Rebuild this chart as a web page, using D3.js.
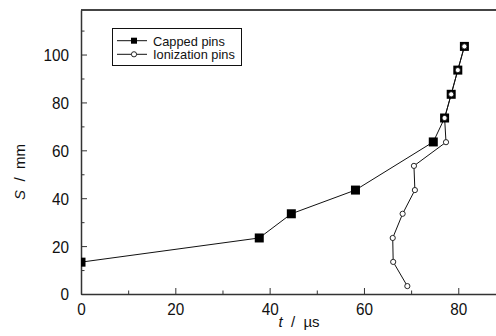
<!DOCTYPE html>
<html>
<head>
<meta charset="utf-8">
<script src="https://cdnjs.cloudflare.com/ajax/libs/d3/7.8.5/d3.min.js"></script>
<style>
  body { margin: 0; background: #fff; }
  svg { display: block; }
  text { font-family: "Liberation Sans", Arial, sans-serif; fill: #111; }
</style>
</head>
<body>
<div id="chart"></div>
<script>
// capped pins (filled squares)
var cappedT = [0, 37.8, 44.6, 58.2, 74.7, 77.1, 78.5, 79.9, 81.3];
var cappedS = [13.3, 23.4, 33.5, 43.4, 63.5, 73.5, 83.4, 93.5, 103.4];
// ionization pins (open circles)
var ionT = [69.2, 66.2, 66.1, 68.2, 70.8, 70.6, 77.4, 77.1, 78.5, 79.9, 81.3];
var ionS = [3.3, 13.4, 23.4, 33.5, 43.4, 53.5, 63.4, 73.5, 83.4, 93.5, 103.4];

var xTicks = [0, 20, 40, 60, 80];
var yTicks = [0, 20, 40, 60, 80, 100];
var legendLabels = ['Capped pins', 'Ionization pins'];

var W = 496, H = 336;
var svg = d3.select('#chart').append('svg')
    .attr('width', W)
    .attr('height', H);

var x = d3.scaleLinear().domain([0, 88]).range([81, 496]);
var y = d3.scaleLinear().domain([0, 118.6]).range([294, 10]);

var capped = cappedT.map(function(t, i) { return {t: t, s: cappedS[i]}; });
var ion = ionT.map(function(t, i) { return {t: t, s: ionS[i]}; });

svg.append('defs').append('clipPath').attr('id', 'clip')
    .append('rect').attr('x', 81).attr('y', 10).attr('width', 420).attr('height', 284);

// top border
svg.append('line')
    .attr('x1', 81).attr('x2', 496)
    .attr('y1', 10).attr('y2', 10)
    .attr('stroke', '#444').attr('stroke-width', 2);

// minor ticks
function minorAxis(axis, vals) {
    return axis.tickValues(vals).tickSize(-3.5).tickFormat('');
}
svg.append('g').attr('transform', 'translate(0,294)')
    .call(minorAxis(d3.axisBottom(x), [10, 30, 50, 70]))
    .call(function(g) { g.select('.domain').remove(); g.selectAll('line').attr('stroke', '#333'); });
svg.append('g').attr('transform', 'translate(81,0)')
    .call(minorAxis(d3.axisLeft(y), [10, 30, 50, 70, 90, 110]))
    .call(function(g) { g.select('.domain').remove(); g.selectAll('line').attr('stroke', '#333'); });

// major axes
var xAxis = svg.append('g').attr('transform', 'translate(0,294)')
    .call(d3.axisBottom(x).tickValues(xTicks).tickSize(-6).tickPadding(0).tickSizeOuter(0));
var yAxis = svg.append('g').attr('transform', 'translate(81,0)')
    .call(d3.axisLeft(y).tickValues(yTicks).tickSize(-6).tickPadding(0).tickSizeOuter(0));

[xAxis, yAxis].forEach(function(g) {
    g.select('.domain').attr('stroke', '#333').attr('stroke-width', 1.5);
    g.selectAll('.tick line').attr('stroke', '#333');
    g.selectAll('text').attr('font-size', 17).attr('fill', '#111');
});
xAxis.selectAll('text')
    .attr('y', 0).attr('dy', 0)
    .attr('transform', 'translate(0,21) scale(0.9,1)');
yAxis.selectAll('text')
    .attr('x', 0).attr('dy', '0.35em')
    .attr('text-anchor', 'end')
    .attr('transform', 'translate(-12,0) scale(0.9,1)');

// axis titles
var yl = svg.append('text')
    .attr('transform', 'translate(25,172) rotate(-90)')
    .attr('text-anchor', 'middle')
    .attr('font-size', 15)
    .attr('xml:space', 'preserve');
yl.append('tspan').attr('font-style', 'italic').text('S');
yl.append('tspan').text('  /  mm');

var xl = svg.append('text')
    .attr('transform', 'translate(299,327)')
    .attr('text-anchor', 'middle')
    .attr('font-size', 15)
    .attr('xml:space', 'preserve');
xl.append('tspan').attr('font-style', 'italic').text('t');
xl.append('tspan').text('  /  \u00b5s');

// series
var line = d3.line().x(function(d) { return x(d.t); }).y(function(d) { return y(d.s); });
var plot = svg.append('g').attr('clip-path', 'url(#clip)');

plot.append('path').datum(capped)
    .attr('d', line).attr('fill', 'none').attr('stroke', '#111').attr('stroke-width', 1);
plot.append('path').datum(ion)
    .attr('d', line).attr('fill', 'none').attr('stroke', '#111').attr('stroke-width', 1);

plot.selectAll('rect.cap').data(capped).enter().append('rect')
    .attr('class', 'cap')
    .attr('x', function(d) { return x(d.t) - 4.5; })
    .attr('y', function(d) { return y(d.s) - 4.5; })
    .attr('width', 9).attr('height', 9)
    .attr('fill', '#000');

plot.selectAll('circle.ion').data(ion).enter().append('circle')
    .attr('class', 'ion')
    .attr('cx', function(d) { return x(d.t); })
    .attr('cy', function(d) { return y(d.s); })
    .attr('r', 2.6)
    .attr('fill', '#fff')
    .attr('stroke', '#111')
    .attr('stroke-width', 0.9);

// legend
var leg = svg.append('g');
leg.append('rect')
    .attr('x', 112.5).attr('y', 28.5).attr('width', 129).attr('height', 37)
    .attr('fill', '#fff').attr('stroke', '#111').attr('stroke-width', 1);
legendLabels.forEach(function(lbl, i) {
    var ly = 40.7 + i * 13.6;
    leg.append('line').attr('x1', 117).attr('x2', 147).attr('y1', ly).attr('y2', ly)
        .attr('stroke', '#111').attr('stroke-width', 1);
    if (i === 0) {
        leg.append('rect').attr('x', 131).attr('y', ly - 3).attr('width', 6).attr('height', 6).attr('fill', '#000');
    } else {
        leg.append('circle').attr('cx', 134).attr('cy', ly).attr('r', 2.6)
            .attr('fill', '#fff').attr('stroke', '#111').attr('stroke-width', 0.9);
    }
    leg.append('text').attr('x', 153).attr('y', ly + 4.8)
        .attr('font-size', 12.8)
        .text(lbl);
});
</script>
</body>
</html>
